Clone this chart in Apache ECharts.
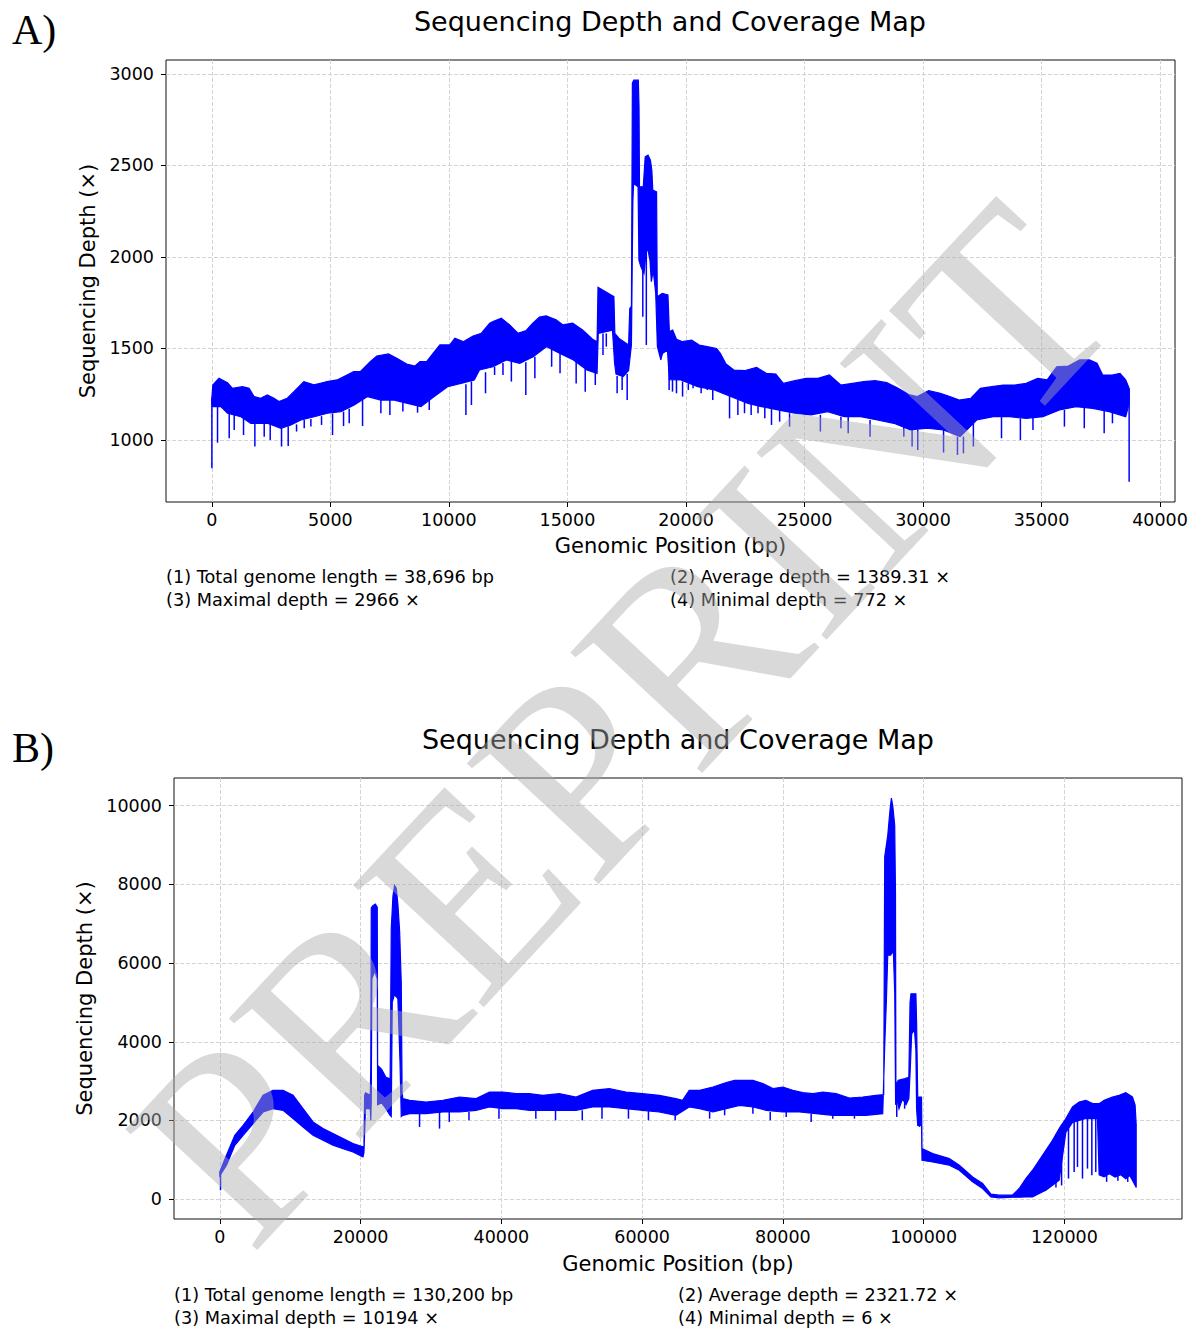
<!DOCTYPE html>
<html lang="en">
<head>
    <meta charset="UTF-8">
    <title>Sequencing Depth and Coverage Map</title>
    <script src="https://cdn.jsdelivr.net/npm/echarts@6/dist/echarts.min.js"></script>
    <style>
        html, body { margin: 0; padding: 0; background: #fff; }
        #chart { width: 1194px; height: 1328px; }
    </style>
</head>
<body>
<div id="chart"></div>
<script>
// panel A: upper / lower edge of the dense coverage band, [bp, depth]
const topA = [[0,1230],[40,1300],[300,1337],[660,1313],[870,1282],[1290,1291],[1570,1282],[1780,1237],[2060,1228],[2340,1246],[2620,1228],[2830,1210],[3180,1228],[3460,1264],[3880,1319],[4300,1301],[4580,1310],[4860,1319],[5280,1328],[5700,1355],[5980,1373],[6260,1373],[6680,1428],[6960,1459],[7450,1470],[7800,1446],[8220,1415],[8570,1404],[8780,1428],[9060,1428],[9340,1474],[9620,1519],[10040,1519],[10250,1556],[10600,1537],[11020,1568],[11370,1583],[11720,1638],[11860,1647],[12210,1665],[12560,1629],[12910,1583],[13260,1598],[13540,1638],[13820,1671],[14100,1678],[14520,1656],[14800,1629],[15220,1638],[15640,1601],[16060,1550],[16250,1537],[16290,1834],[16610,1810],[16960,1783],[17000,1582],[17180,1555],[17580,1519],[17630,1719],[17700,1730],[17740,2950],[17800,2966],[17990,2966],[18020,2822],[18040,2383],[18200,2383],[18280,2547],[18400,2556],[18500,2529],[18560,2474],[18600,2365],[18760,2356],[18790,1783],[19000,1801],[19240,1792],[19300,1592],[19440,1600],[19600,1550],[19840,1537],[20240,1546],[20560,1519],[20890,1510],[21290,1500],[21450,1473],[21690,1415],[22020,1382],[22500,1379],[22980,1397],[23390,1364],[23790,1360],[24110,1309],[24600,1324],[25080,1337],[25570,1337],[26050,1355],[26530,1300],[27020,1309],[27500,1319],[27980,1324],[28470,1313],[28950,1282],[29440,1246],[29760,1237],[30240,1269],[30730,1255],[31130,1237],[31530,1218],[32020,1228],[32420,1282],[32900,1291],[33390,1300],[33870,1300],[34350,1309],[34840,1337],[35240,1328],[35640,1400],[36130,1404],[36610,1437],[37020,1437],[37340,1419],[37580,1355],[37980,1355],[38310,1364],[38550,1328],[38696,1282]];
const bottomA = [[0,1200],[28,1182],[380,1182],[661,1146],[1224,1127],[1645,1091],[2349,1091],[2911,1064],[3333,1082],[3755,1109],[4318,1127],[4880,1146],[5442,1155],[6005,1191],[6568,1237],[7130,1218],[7693,1218],[8255,1200],[8818,1182],[9380,1237],[9943,1291],[10505,1309],[11068,1328],[11290,1382],[11857,1400],[12423,1437],[12989,1419],[13556,1455],[14122,1510],[14688,1473],[15255,1437],[15821,1382],[16250,1364],[16300,1582],[16900,1600],[16990,1420],[17050,1360],[17350,1346],[17580,1380],[17700,1520],[17760,2300],[17790,2401],[17980,2383],[18016,1983],[18100,1946],[18230,1910],[18300,2000],[18370,2056],[18480,1983],[18540,1865],[18620,1928],[18724,1801],[18795,1510],[18940,1437],[19010,1473],[19220,1491],[19300,1330],[19790,1328],[20494,1291],[21202,1273],[21910,1237],[22618,1200],[23184,1182],[23882,1164],[24581,1146],[25279,1137],[25978,1155],[26676,1127],[27375,1127],[28073,1109],[28772,1091],[29470,1055],[30169,1064],[30867,1055],[31566,1018],[32264,1109],[32963,1127],[33661,1127],[34360,1118],[35058,1127],[35757,1164],[36455,1182],[37154,1173],[37852,1155],[38551,1127],[38696,1200]];
// panel A: single downward spikes, [bp, from, to]
const dipsA = [[0,1230,845],[239,1180,985],[732,1150,1009],[942,1140,1055],[1336,1125,1027],[1814,1095,964],[2208,1090,1018],[2461,1090,1000],[2939,1065,964],[3220,1075,967],[3572,1085,1046],[3896,1110,1064],[4177,1115,1073],[4627,1130,1082],[5091,1145,1027],[5555,1155,1076],[5794,1170,1091],[6357,1220,1076],[7130,1218,1146],[7510,1218,1137],[8058,1205,1155],[8677,1185,1149],[9170,1220,1164],[10717,1305,1137],[10950,1320,1191],[11545,1370,1255],[11927,1400,1355],[12281,1420,1355],[12635,1435,1319],[13244,1425,1246],[13626,1455,1337],[14334,1500,1400],[14688,1473,1364],[15368,1430,1309],[15750,1390,1264],[16175,1370,1300],[16500,1582,1464],[16640,1582,1510],[17096,1350,1255],[17308,1346,1273],[17520,1360,1218],[18180,1946,1673],[18328,2056,1519],[19290,1470,1273],[19432,1330,1264],[19600,1330,1255],[19857,1320,1237],[20100,1310,1273],[20300,1300,1282],[20640,1290,1255],[20900,1280,1273],[21131,1275,1218],[21839,1240,1118],[22190,1225,1137],[22470,1210,1146],[22750,1200,1137],[23040,1190,1146],[23326,1182,1118],[23609,1180,1082],[23952,1160,1100],[24371,1146,1073],[25671,1137,1046],[26537,1127,1064],[26844,1127,1036],[27766,1109,1018],[29191,1091,1018],[29540,1055,964],[29778,1055,945],[30867,1055,931],[31454,1018,918],[31706,1018,927],[32125,1109,964],[33312,1127,1009],[34108,1118,1000],[34639,1127,1055],[35966,1164,1073],[36804,1182,1064],[37643,1170,1036],[37992,1155,1091],[38696,1280,772]];

// panel B
const topB = [[0,700],[946,1117],[2128,1624],[3311,1878],[4730,2216],[6149,2640],[7568,2766],[8987,2766],[10406,2640],[11825,2301],[13244,1963],[14663,1794],[16082,1667],[17501,1540],[18920,1413],[20339,1328],[20480,1350],[20576,2640],[20700,2700],[21380,2640],[21450,3400],[21520,7400],[21700,7450],[22100,7500],[22370,7420],[22420,3400],[23000,3300],[23600,3100],[24200,3060],[24360,6870],[24600,7700],[24830,7970],[25070,7900],[25300,7500],[25550,6800],[25780,5500],[25900,2700],[26000,2560],[26961,2513],[29326,2470],[31691,2513],[34056,2597],[36421,2555],[38313,2724],[40205,2724],[42097,2682],[43989,2682],[45881,2640],[48246,2682],[50611,2597],[52976,2766],[55341,2809],[57706,2724],[60071,2682],[62436,2640],[64801,2555],[65747,2513],[66693,2766],[68175,2766],[70067,2851],[71959,2961],[73142,3020],[75743,3020],[77162,2936],[78581,2809],[80000,2851],[81419,2766],[82838,2707],[84257,2682],[85676,2724],[87568,2682],[89460,2572],[91352,2597],[93244,2640],[94330,2656],[94470,8700],[94900,9240],[95230,9900],[95420,10194],[95610,10000],[95890,9500],[96000,7800],[96060,2900],[96400,3020],[97350,3063],[97900,3100],[98070,5000],[98200,5220],[98900,5220],[99000,4500],[99160,2600],[99700,2597],[99770,1286],[101285,1159],[103650,1032],[105069,863],[106961,567],[108380,398],[109563,127],[110745,102],[112637,110],[113583,271],[114529,525],[115475,736],[116421,990],[117367,1244],[118313,1497],[119259,1794],[120205,2047],[121151,2343],[122097,2470],[123043,2513],[123989,2428],[124935,2428],[125645,2513],[126827,2597],[127773,2640],[128719,2707],[129665,2597],[130043,2400],[130200,1900]];
const bottomB = [[0,600],[946,863],[2128,1371],[3311,1624],[4730,1920],[6149,2216],[7568,2301],[8987,2259],[10406,2047],[11825,1836],[13244,1624],[14663,1497],[16082,1371],[17501,1286],[18920,1201],[20339,1074],[20480,1180],[20576,1700],[20700,2300],[21380,2300],[21450,2000],[21520,2500],[21600,5600],[22000,5800],[22370,5600],[22420,2400],[23000,2450],[23600,2300],[24200,2130],[24360,2100],[24500,5000],[24800,5200],[25300,5100],[25600,3500],[25780,2100],[26000,2130],[26961,2174],[29326,2174],[31691,2216],[34056,2216],[36421,2259],[38313,2343],[40205,2301],[42097,2301],[43989,2259],[45881,2259],[48246,2259],[50611,2259],[52976,2343],[55341,2343],[57706,2301],[60071,2259],[62436,2216],[64801,2132],[66693,2343],[68175,2301],[70067,2216],[71959,2301],[73851,2386],[75743,2343],[77635,2259],[80000,2216],[82365,2216],[84730,2174],[87095,2132],[89460,2132],[91825,2132],[94190,2174],[94470,3900],[94700,5000],[94900,6200],[95300,6200],[95700,6300],[95900,5200],[96020,2400],[96200,2555],[96500,2300],[97000,2555],[97500,2400],[97900,2555],[98100,3300],[98300,4200],[98700,4300],[98900,3800],[99000,2300],[99160,1878],[99700,1878],[99770,990],[101285,948],[103650,863],[105069,736],[106961,440],[108380,271],[109563,59],[110745,34],[112637,51],[113583,51],[114529,59],[115475,59],[116421,144],[117367,228],[118313,355],[119259,482],[120205,1700],[121151,1950],[122097,2000],[123043,2050],[123989,2050],[124700,2050],[124935,620],[125645,567],[126400,650],[127200,560],[128000,620],[128719,520],[129300,600],[129665,480],[130043,355],[130200,300]];
const dipsB = [[100,700,228],[28380,2174,1836],[31218,2216,1794],[32600,2216,1963],[35400,2216,2005],[39660,2301,2047],[44900,2259,2047],[47700,2259,2005],[51500,2259,2005],[54300,2343,2047],[58060,2301,2047],[60900,2259,2005],[64700,2132,2005],[69594,2216,2047],[71723,2301,2132],[75743,2343,2174],[78203,2216,2005],[80473,2216,2090],[84020,2174,1963],[87095,2132,2047],[90170,2132,2047],[96180,2555,2090],[97300,2555,2300],[99400,1878,1836],[118800,1650,300],[119600,1900,350],[120583,2047,525],[121387,2300,694],[121860,2400,820],[122570,2450,525],[123280,2500,778],[123900,2450,609],[124460,2430,694],[126000,600,440],[127600,600,470],[129000,560,440]];

const xTicksA = [0, 5000, 10000, 15000, 20000, 25000, 30000, 35000, 40000];
const yTicksA = [1000, 1500, 2000, 2500, 3000];
const xTicksB = [0, 20000, 40000, 60000, 80000, 100000, 120000];
const yTicksB = [0, 2000, 4000, 6000, 8000, 10000];

const titleText = 'Sequencing Depth and Coverage Map';
const statsA = ['(1) Total genome length = 38,696 bp', '(2) Average depth = 1389.31 \u00d7', '(3) Maximal depth = 2966 \u00d7', '(4) Minimal depth = 772 \u00d7'];
const statsB = ['(1) Total genome length = 130,200 bp', '(2) Average depth = 2321.72 \u00d7', '(3) Maximal depth = 10194 \u00d7', '(4) Minimal depth = 6 \u00d7'];

const FONT = '"DejaVu Sans", sans-serif';
const BLUE = '#0000ff';

function bandSeries(idx, top, bottom) {
    return {
        type: 'custom',
        xAxisIndex: idx,
        yAxisIndex: idx,
        silent: true,
        data: [top[0]],
        renderItem: function (params, api) {
            let pts = top.map(p => api.coord(p));
            let low = bottom.slice().reverse().map(p => api.coord(p));
            return {
                type: 'polygon',
                shape: { points: pts.concat(low) },
                style: { fill: BLUE, stroke: BLUE, lineWidth: 1.2 }
            };
        }
    };
}

function dipSeries(idx, dips) {
    return {
        type: 'custom',
        xAxisIndex: idx,
        yAxisIndex: idx,
        silent: true,
        data: dips,
        renderItem: function (params, api) {
            let a = api.coord([api.value(0), api.value(1)]);
            let b = api.coord([api.value(0), api.value(2)]);
            return {
                type: 'line',
                shape: { x1: a[0], y1: a[1], x2: b[0], y2: b[1] },
                style: { stroke: BLUE, lineWidth: 1.5 }
            };
        }
    };
}

function xAxis(idx, min, max, step, ticks, gap) {
    return {
        type: 'value', gridIndex: idx, min: min, max: max,
        minInterval: step, maxInterval: step,
        axisLine: { show: false, onZero: false },
        axisTick: { show: true, length: 5, customValues: ticks, lineStyle: { color: '#000' } },
        axisLabel: { customValues: ticks, margin: 9, fontSize: 17.5, fontFamily: FONT, color: '#000', formatter: v => String(v) },
        splitLine: { show: true, lineStyle: { color: '#d4d4d4', width: 1, type: [4, 2] } },
        name: 'Genomic Position (bp)', nameLocation: 'middle', nameGap: gap,
        nameTextStyle: { fontSize: 21, fontFamily: FONT, color: '#000' }
    };
}

function yAxis(idx, min, max, step, ticks, gap) {
    return {
        type: 'value', gridIndex: idx, min: min, max: max,
        minInterval: step, maxInterval: step,
        axisLine: { show: false, onZero: false },
        axisTick: { show: true, length: 5, customValues: ticks, lineStyle: { color: '#000' } },
        axisLabel: { customValues: ticks, margin: 12, fontSize: 17.5, fontFamily: FONT, color: '#000', formatter: v => String(v) },
        splitLine: { show: true, lineStyle: { color: '#d4d4d4', width: 1, type: [4, 2] } },
        name: 'Sequencing Depth (\u00d7)', nameLocation: 'middle', nameGap: gap,
        nameTextStyle: { fontSize: 21, fontFamily: FONT, color: '#000' }
    };
}

function label(text, x, y, font, align) {
    return {
        type: 'text', x: x, y: y, z: 50,
        style: { text: text, font: font, fill: '#000', align: align, textAlign: align, verticalAlign: 'middle', textVerticalAlign: 'middle' }
    };
}

var chartDom = document.getElementById('chart');
var myChart = echarts.init(chartDom, null, { renderer: 'svg' });

var option = {
    animation: false,
    backgroundColor: '#fff',
    grid: [
        { left: 166, top: 60, width: 1009, height: 442, show: true, borderColor: '#111', borderWidth: 1, backgroundColor: 'transparent', outerBoundsMode: 'none' },
        { left: 174, top: 778, width: 1008, height: 441, show: true, borderColor: '#111', borderWidth: 1, backgroundColor: 'transparent', outerBoundsMode: 'none' }
    ],
    xAxis: [
        xAxis(0, -1935, 40631, 5000, xTicksA, 33),
        xAxis(1, -6510, 136710, 20000, xTicksB, 34)
    ],
    yAxis: [
        yAxis(0, 661, 3076, 500, yTicksA, 63),
        yAxis(1, -503, 10703, 2000, yTicksB, 75)
    ],
    series: [
        bandSeries(0, topA, bottomA),
        dipSeries(0, dipsA),
        bandSeries(1, topB, bottomB),
        dipSeries(1, dipsB)
    ],
    graphic: [
        label('A)', 12, 30, '42px "Liberation Serif", serif', 'left'),
        label('B)', 12, 748, '42px "Liberation Serif", serif', 'left'),
        label(titleText, 670, 21, '27px ' + FONT, 'center'),
        label(titleText, 678, 739, '27px ' + FONT, 'center'),
        label(statsA[0], 166, 577, '17.7px ' + FONT, 'left'),
        label(statsA[1], 670, 577, '17.7px ' + FONT, 'left'),
        label(statsA[2], 166, 600, '17.7px ' + FONT, 'left'),
        label(statsA[3], 670, 600, '17.7px ' + FONT, 'left'),
        label(statsB[0], 174, 1295, '17.7px ' + FONT, 'left'),
        label(statsB[1], 678, 1295, '17.7px ' + FONT, 'left'),
        label(statsB[2], 174, 1318, '17.7px ' + FONT, 'left'),
        label(statsB[3], 678, 1318, '17.7px ' + FONT, 'left'),
        {
            type: 'text', x: 623, y: 723, rotation: 0.82, z: 100, silent: true,
            style: {
                text: 'PREPRINT', font: '273px "Liberation Serif", serif',
                fill: 'rgba(170,170,170,0.45)',
                align: 'center', textAlign: 'center', verticalAlign: 'middle', textVerticalAlign: 'middle'
            }
        }
    ]
};

option && myChart.setOption(option);
</script>
</body>
</html>
